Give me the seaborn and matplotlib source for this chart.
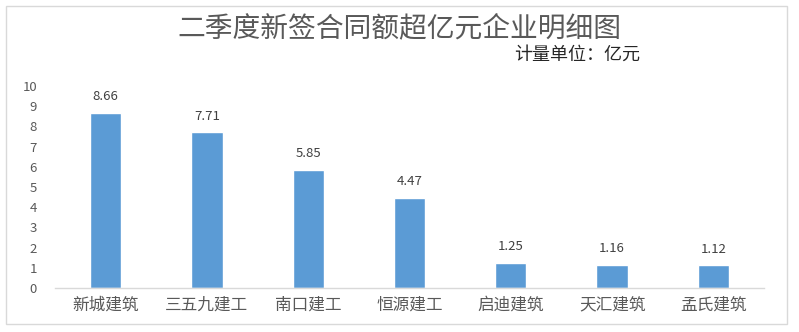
import matplotlib
matplotlib.use("Agg")
import matplotlib.pyplot as plt
import seaborn as sns
import pandas as pd
from matplotlib.patches import Rectangle

categories = ["新城建筑", "三五九建工", "南口建工", "恒源建工", "启迪建筑", "天汇建筑", "孟氏建筑"]
values = [8.66, 7.71, 5.85, 4.47, 1.25, 1.16, 1.12]
yticks = [0, 1, 2, 3, 4, 5, 6, 7, 8, 9, 10]
title = "二季度新签合同额超亿元企业明细图"
subtitle = "计量单位：亿元"

sns.set_theme(style="white")
plt.rcParams['font.family'] = ['Noto Sans CJK SC', 'DejaVu Sans']

TXT = '#595959'
df = pd.DataFrame({"企业": categories, "金额": values})

fig = plt.figure(figsize=(7.99, 3.32), dpi=100)
ax = fig.add_axes([55/799, 44/332, 709/799, 202/332])
sns.barplot(data=df, x="企业", y="金额", color='#5B9BD5', saturation=1, width=0.31, ax=ax)

ax.set_ylim(0, 10)
ax.set_xlim(-0.5, len(categories) - 0.5)
ax.set_yticks(yticks)
ax.set_yticklabels([str(t) for t in yticks], fontsize=9.5, color=TXT)
ax.set_xticks(range(len(categories)))
ax.set_xticklabels(categories, fontsize=12, color=TXT)
ax.tick_params(axis='both', length=0)
ax.tick_params(axis='y', pad=13)
ax.tick_params(axis='x', pad=6)
ax.set_xlabel("")
ax.set_ylabel("")
for s in ["top", "right", "left"]:
    ax.spines[s].set_visible(False)
ax.spines["bottom"].set_color('#D9D9D9')
ax.spines["bottom"].set_linewidth(1)
ax.grid(False)

ax.bar_label(ax.containers[0], fmt='%.2f', padding=7, fontsize=9.5, color='#404040')

fig.text(0.4995, 1 - 28/332, title, ha='center', va='center', fontsize=20, color=TXT, fontweight='light')
fig.text(640/799, 1 - 55/332, subtitle, ha='right', va='center', fontsize=13, color='#262626')

fig.patches.append(Rectangle((6/799, 8/332), 781/799, 318/332, transform=fig.transFigure,
                             fill=False, edgecolor='#D9D9D9', linewidth=1))

fig.savefig("out.png", dpi=100, facecolor='white')
